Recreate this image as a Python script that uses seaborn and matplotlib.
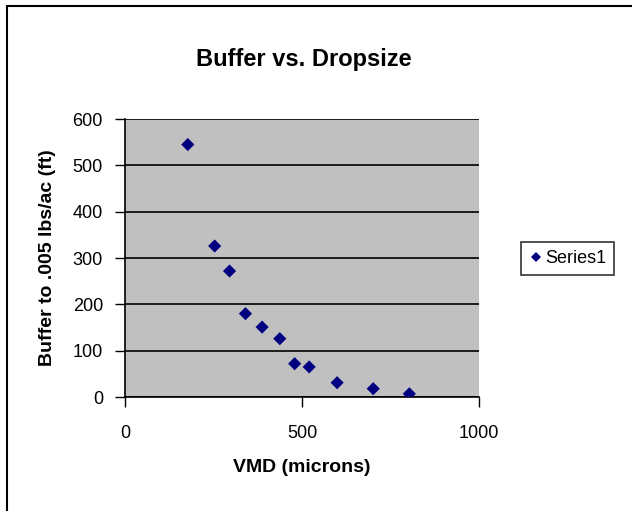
import matplotlib
matplotlib.use("Agg")
import matplotlib.pyplot as plt
import seaborn as sns
import pandas as pd

# Values
vmd = [177, 253, 295, 340, 387, 437, 479, 520, 599, 701, 803]
buffer_ft = [545, 326, 272, 180, 151, 126, 72, 65, 31, 18, 7]
series_name = "Series1"

df = pd.DataFrame({"VMD": vmd, "Buffer": buffer_ft, "series": series_name})

sns.set_theme(style="white")
plt.rcParams["font.family"] = ["Liberation Sans", "DejaVu Sans"]
plt.rcParams["text.color"] = "black"
plt.rcParams["xtick.color"] = "black"
plt.rcParams["ytick.color"] = "black"

fig = plt.figure(figsize=(6.32, 5.11), dpi=100)
fig.patch.set_facecolor("white")
ax = fig.add_axes([0.198, 0.223, 0.560, 0.544])
ax.set_facecolor("#C0C0C0")

sns.scatterplot(data=df, x="VMD", y="Buffer", hue="series", palette=["#000080"],
                marker="D", s=45, edgecolor="#000080", linewidth=0, ax=ax, zorder=3)

ax.set_xlim(0, 1000)
ax.set_ylim(0, 600)
ax.set_xticks([0, 500, 1000])
ax.set_yticks(range(0, 601, 100))
ax.yaxis.grid(True, color="black", linewidth=1.2)
ax.set_axisbelow(True)
ax.tick_params(axis="both", direction="out", length=7, width=1, color="black",
               labelsize=13, left=True, bottom=True, labelcolor="black")
ax.tick_params(axis="x", pad=13)
ax.tick_params(axis="y", pad=9)
for side in ["left", "bottom"]:
    ax.spines[side].set_color("black")
    ax.spines[side].set_linewidth(1.2)
for side in ["top", "right"]:
    ax.spines[side].set_visible(False)

ax.set_xlabel("VMD (microns)", fontsize=14, fontweight="bold", color="black", va="center")
ax.set_ylabel("Buffer to .005 lbs/ac (ft)", fontsize=14, fontweight="bold", color="black", va="center")
ax.xaxis.set_label_coords(0.5, -0.255)
ax.yaxis.set_label_coords(-0.22, 0.5)
fig.text(0.48, 0.883, "Buffer vs. Dropsize", fontsize=17, fontweight="bold",
         ha="center", va="center", color="black")

leg = ax.legend(loc="center left", bbox_to_anchor=(0.824, 0.494),
                bbox_transform=fig.transFigure, frameon=True,
                fontsize=13, handletextpad=0.1, borderpad=0.45, markerscale=0.7,
                fancybox=False, handlelength=0.8, borderaxespad=0)
leg.get_frame().set_edgecolor("black")
leg.get_frame().set_linewidth(1.2)
for t in leg.get_texts():
    t.set_color("black")

# outer chart border (only left and top edges visible in the reference)
fig.add_artist(plt.Line2D([0.011, 0.011], [0.0, 0.988], transform=fig.transFigure,
                          color="black", linewidth=1.5))
fig.add_artist(plt.Line2D([0.011, 1.0], [0.988, 0.988], transform=fig.transFigure,
                          color="black", linewidth=1.5))

fig.savefig("out.png", dpi=100)
